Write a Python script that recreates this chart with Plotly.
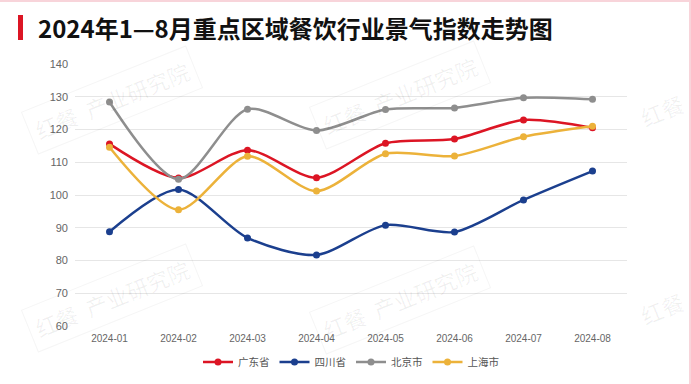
import plotly.graph_objects as go

months = ["2024-01", "2024-02", "2024-03", "2024-04", "2024-05", "2024-06", "2024-07", "2024-08"]
guangdong = [115.6, 105.2, 113.7, 105.3, 115.8, 117.1, 122.9, 120.5]
sichuan = [88.8, 101.7, 86.9, 81.7, 90.8, 88.7, 98.5, 107.3]
beijing = [128.4, 104.8, 126.2, 119.7, 126.1, 126.6, 129.7, 129.2]
shanghai = [114.6, 95.5, 111.8, 101.2, 112.6, 111.9, 117.8, 121.0]
series_names = ["广东省", "四川省", "北京市", "上海市"]
series_colors = ["#dc1524", "#1b3f8e", "#8e8e8e", "#ecb23a"]
title_text = "2024年1—8月重点区域餐饮行业景气指数走势图"
watermark_text = "红餐  产业研究院"
watermark_short = "红餐"

W, H = 691, 384
L, R, T, B = 75, 64, 64, 58
PW, PH = W - L - R, H - T - B


def px(x):
    return (x - L) / PW


def py(y):
    return (H - B - y) / PH


fig = go.Figure()
for name, vals, col in zip(series_names, [guangdong, sichuan, beijing, shanghai], series_colors):
    fig.add_trace(go.Scatter(
        x=months, y=vals, name=name, mode="lines+markers",
        line=dict(color=col, width=2.5, shape="spline", smoothing=0.8),
        marker=dict(color=col, size=7),
    ))

font_family = "Noto Sans CJK SC, Noto Sans, sans-serif"
tick_family = "Liberation Sans, Arial, sans-serif"

annotations = [
    dict(x=px(36), y=py(27), xref="paper", yref="paper", xanchor="left", yanchor="middle",
         text="<b>" + title_text + "</b>", showarrow=False,
         font=dict(size=24, color="#111111", family=font_family)),
]
for (cx, cy) in [(112, 100), (400, 95), (112, 298), (400, 300)]:
    annotations.append(dict(
        x=px(cx), y=py(cy), xref="paper", yref="paper", xanchor="center", yanchor="middle",
        text=watermark_text, showarrow=False, textangle=-22,
        font=dict(size=22, color="rgba(0,0,0,0.06)", family=font_family),
        bordercolor="rgba(0,0,0,0.04)", borderwidth=1, borderpad=6,
    ))
for (cx, cy) in [(662, 110), (662, 308)]:
    annotations.append(dict(
        x=px(cx), y=py(cy), xref="paper", yref="paper", xanchor="center", yanchor="middle",
        text=watermark_short, showarrow=False, textangle=-22,
        font=dict(size=22, color="rgba(0,0,0,0.06)", family=font_family),
    ))

shapes = [
    dict(type="rect", xref="paper", yref="paper", x0=px(18), x1=px(23), y0=py(15), y1=py(40),
         fillcolor="#dc1524", line=dict(width=0)),
    dict(type="rect", xref="paper", yref="paper", x0=px(0), x1=px(W), y0=py(0), y1=py(2),
         fillcolor="#f8d4da", line=dict(width=0)),
    dict(type="rect", xref="paper", yref="paper", x0=px(689), x1=px(W), y0=py(0), y1=py(H),
         fillcolor="#f8d4da", line=dict(width=0)),
]

fig.update_layout(
    width=W, height=H,
    margin=dict(l=L, r=R, t=T, b=B, autoexpand=False),
    paper_bgcolor="white", plot_bgcolor="white",
    font=dict(family=font_family, color="#666666", size=11),
    showlegend=True,
    legend=dict(orientation="h", x=0.5, xanchor="center", y=py(362), yanchor="middle",
                font=dict(size=10.5, color="#555555"), itemwidth=30, tracegroupgap=0,
                bgcolor="rgba(0,0,0,0)"),
    annotations=annotations,
    shapes=shapes,
    xaxis=dict(type="category", range=[-0.5, 7.5], showgrid=False, zeroline=False,
               showline=False, ticks="", tickfont=dict(size=10, color="#666666", family=tick_family),
               ticklabelstandoff=5, fixedrange=True),
    yaxis=dict(range=[60, 140], dtick=10, showgrid=True, gridcolor="#e6e6e6", gridwidth=1,
               zeroline=False, showline=False, ticks="", tickfont=dict(size=11, color="#666666", family=tick_family),
               ticklabelstandoff=6, fixedrange=True),
)

fig.write_html("out.html", config={"displayModeBar": False},
               post_script="document.body.style.margin='0';")
